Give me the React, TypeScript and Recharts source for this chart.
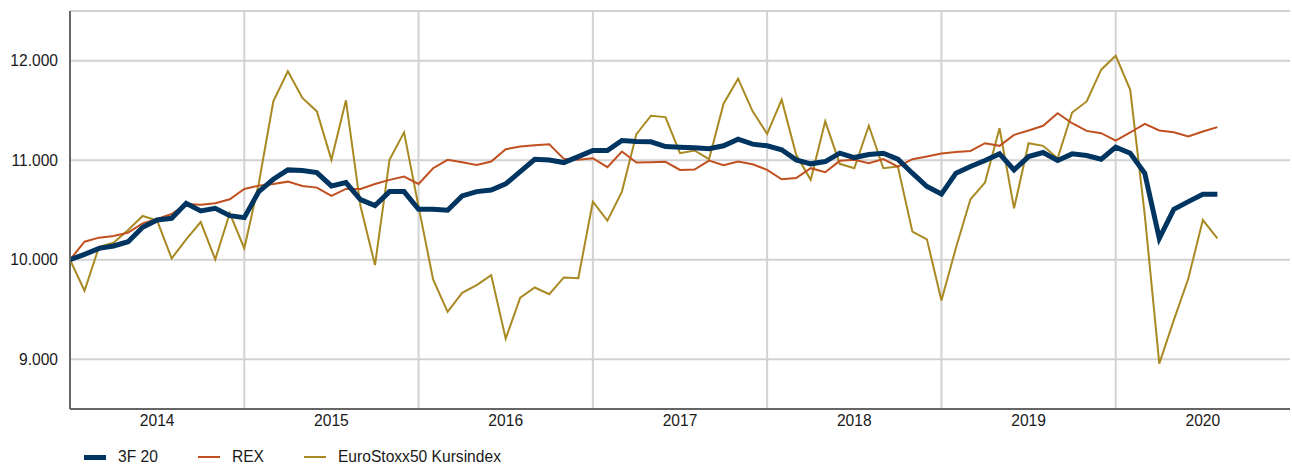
import React from 'react'
import { LineChart, Line, XAxis, YAxis, CartesianGrid } from 'recharts'

// monthly values, Jan 2014 .. Aug 2020 (index = month number)
const FUND_3F20 = [
  10000, 10054, 10114, 10138, 10181, 10326, 10400, 10416, 10567, 10490, 10517, 10443,
  10423, 10685, 10809, 10903, 10896, 10876, 10742, 10776, 10605, 10544, 10685, 10685,
  10507, 10507, 10497, 10641, 10685, 10701, 10762, 10886, 11010, 11003, 10977, 11037,
  11098, 11098, 11198, 11188, 11185, 11138, 11131, 11125, 11115, 11145, 11212, 11162,
  11145, 11105, 11004, 10964, 10987, 11071, 11027, 11058, 11071, 11011, 10870, 10736,
  10660, 10870, 10937, 10997, 11064, 10903, 11037, 11078, 10997, 11064, 11048, 11011,
  11132, 11071, 10870, 10215, 10507, 10584, 10658, 10658
]

const REX = [
  10000, 10181, 10222, 10238, 10272, 10366, 10410, 10460, 10561, 10554, 10567, 10608,
  10712, 10745, 10762, 10785, 10742, 10725, 10641, 10712, 10712, 10762, 10803, 10836,
  10762, 10920, 11004, 10980, 10953, 10987, 11111, 11138, 11151, 11161, 11014, 11004,
  11021, 10930, 11088, 10977, 10980, 10984, 10903, 10906, 10997, 10950, 10987, 10960,
  10903, 10809, 10822, 10920, 10880, 10994, 11004, 10970, 11011, 10937, 11011, 11037,
  11068, 11084, 11094, 11171, 11145, 11255, 11299, 11346, 11473, 11372, 11295, 11272,
  11198, 11279, 11366, 11299, 11282, 11238, 11289, 11333
]

const EURO_STOXX = [
  10000, 9688, 10131, 10171, 10299, 10440, 10393, 10013, 10205, 10379, 10003, 10467,
  10114, 10769, 11592, 11894, 11626, 11491, 11004, 11602, 10540, 9946, 11004, 11280,
  10534, 9802, 9476, 9667, 9745, 9846, 9207, 9620, 9721, 9654, 9822, 9815,
  10584, 10393, 10685, 11263, 11448, 11434, 11071, 11098, 11011, 11568, 11820, 11491,
  11266, 11609, 11054, 10803, 11391, 10964, 10920, 11347, 10920, 10937, 10282, 10205,
  9590, 10120, 10608, 10776, 11322, 10517, 11171, 11145, 11020, 11480, 11591, 11910,
  12050, 11708, 10450, 8956, 9393, 9812, 10399, 10215
]

const YEAR_LABELS = ['2014', '2015', '2016', '2017', '2018', '2019', '2020']
const Y_TICKS = [9000, 10000, 11000, 12000]
const X_DOMAIN: [number, number] = [0, 84]

const data = FUND_3F20.map((v, i) => ({
  m: i,
  fund: v,
  rex: REX[i],
  stoxx: EURO_STOXX[i]
}))

const yearMid = YEAR_LABELS.map((_, i) => i * 12 + 6)
const yearEdges = YEAR_LABELS.slice(1).map((_, i) => (i + 1) * 12)

const COLORS = { fund: '#003562', rex: '#c0501f', stoxx: '#a98a22' }
const FONT = '"Liberation Sans", Arial, sans-serif'
const GRID = '#d2d2d2'
const AXIS = '#666666'

const fmt = (v: number) => {
  const s = String(Math.round(v))
  return s.replace(/\B(?=(\d{3})+(?!\d))/g, '.')
}

// vertical year separators, mapped through the x axis scale when available
const yearLines = ({ xAxis, offset }: any) =>
  yearEdges.map(m => {
    const sc = xAxis && xAxis.scale
    if (typeof sc === 'function') return sc(m)
    if (sc && typeof sc.map === 'function') return sc.map(m)
    return offset.left + ((m - X_DOMAIN[0]) / (X_DOMAIN[1] - X_DOMAIN[0])) * offset.width
  })

const legendItems = [
  { label: '3F 20', color: COLORS.fund, width: 5 },
  { label: 'REX', color: COLORS.rex, width: 2 },
  { label: 'EuroStoxx50 Kursindex', color: COLORS.stoxx, width: 2 }
]

export default function App() {
  return (
    <div style={{ position: 'absolute', left: 0, top: 0, width: 1292, height: 465, background: '#fff', fontFamily: FONT }}>
      <LineChart width={1292} height={465} data={data} margin={{ top: 11, right: 2, left: 0, bottom: 26 }}>
        <CartesianGrid stroke={GRID} strokeWidth={2} verticalCoordinatesGenerator={yearLines} />
        <XAxis
          type="number"
          dataKey="m"
          domain={X_DOMAIN}
          ticks={yearMid}
          tickFormatter={(v: number) => YEAR_LABELS[Math.round((v - 6) / 12)]}
          tickLine={false}
          tickSize={0}
          tickMargin={6}
          height={30}
          axisLine={{ stroke: AXIS, strokeWidth: 2 }}
          tick={{ fill: '#1a1a1a', fontSize: 15.6, fontFamily: FONT }}
        />
        <YAxis
          type="number"
          domain={[8500, 12500]}
          ticks={Y_TICKS}
          width={70}
          tickFormatter={fmt}
          tickLine={false}
          tickSize={0}
          tickMargin={12}
          axisLine={{ stroke: AXIS, strokeWidth: 2 }}
          tick={{ fill: '#1a1a1a', fontSize: 15.6, fontFamily: FONT }}
        />
        <Line type="linear" dataKey="stoxx" stroke={COLORS.stoxx} strokeWidth={2} dot={false} isAnimationActive={false} />
        <Line type="linear" dataKey="rex" stroke={COLORS.rex} strokeWidth={2} dot={false} isAnimationActive={false} />
        <Line type="linear" dataKey="fund" stroke={COLORS.fund} strokeWidth={5} dot={false} isAnimationActive={false} />
      </LineChart>
      <div style={{ position: 'absolute', left: 84, top: 447, height: 20, display: 'flex', alignItems: 'center', gap: 40, fontSize: 15.6, color: '#1a1a1a' }}>
        {legendItems.map(it => (
          <div key={it.label} style={{ display: 'flex', alignItems: 'center' }}>
            <span style={{ display: 'inline-block', width: 22, height: it.width, background: it.color, marginRight: 12 }} />
            <span>{it.label}</span>
          </div>
        ))}
      </div>
    </div>
  )
}
